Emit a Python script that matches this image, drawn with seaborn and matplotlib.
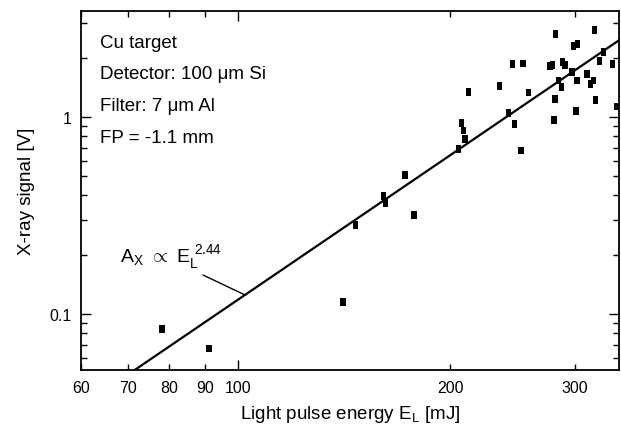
import numpy as np
import pandas as pd
import matplotlib
matplotlib.use("Agg")
import matplotlib.pyplot as plt
import matplotlib.ticker as mticker
import seaborn as sns

# light pulse energy [mJ] and x-ray signal [V]
energy = [78.1, 91.1, 141.0, 146.9, 160.8, 162.0, 172.6, 177.7,
          205.3, 207.6, 208.7, 209.9, 212.4,
          234.7, 241.7, 246.5, 252.0, 245.2, 253.4, 257.9,
          277.0, 279.4, 280.5, 281.5, 282.1, 284.5, 287.6, 288.6, 290.8,
          297.3, 298.9, 302.8, 301.2, 302.2, 312.2, 315.6, 319.0, 319.9,
          321.4, 325.3, 329.6, 339.8, 343.6]
signal = [0.084, 0.067, 0.115, 0.283, 0.398, 0.366, 0.508, 0.319,
          0.688, 0.929, 0.852, 0.773, 1.335,
          1.44, 1.05, 0.92, 0.675, 1.86, 1.87, 1.33,
          1.81, 1.84, 0.966, 1.234, 2.64, 1.53, 1.415, 1.90, 1.84,
          1.69, 2.30, 2.35, 1.076, 1.53, 1.65, 1.47, 1.53, 2.77,
          1.22, 1.93, 2.13, 1.86, 1.13]

# power-law fit A_X = C * E_L^2.44
fit_exponent = 2.44
fit_prefactor = 1.555e-6

x_ticks = [60, 70, 80, 90, 100, 200, 300]
y_ticks = [0.1, 1]
info_lines = ["Cu target", "Detector: 100 μm Si", "Filter: 7 μm Al", "FP = -1.1 mm"]

sns.set_style("ticks")
plt.rcParams["font.family"] = ["Liberation Sans", "DejaVu Sans"]
plt.rcParams["mathtext.fontset"] = "custom"
plt.rcParams["mathtext.rm"] = "Liberation Sans"
plt.rcParams["text.color"] = "black"
plt.rcParams["axes.labelcolor"] = "black"

df = pd.DataFrame({"energy": energy, "signal": signal})
e_fit = np.geomspace(60, 350, 200)
df_fit = pd.DataFrame({"energy": e_fit, "signal": fit_prefactor * e_fit ** fit_exponent})

fig = plt.figure(figsize=(6.21, 4.35), dpi=100)
ax = fig.add_axes([81 / 621, 1 - 371 / 435, 538 / 621, 359 / 435])

sns.lineplot(data=df_fit, x="energy", y="signal", color="black", lw=1.6, ax=ax)
rect = [(-0.7, -1), (0.7, -1), (0.7, 1), (-0.7, 1)]
sns.scatterplot(data=df, x="energy", y="signal", marker=rect, s=30, color="black",
                edgecolor="none", ax=ax, zorder=3)

ax.set_xscale("log")
ax.set_yscale("log")
ax.set_xlim(60, 346.7)
ax.set_ylim(0.052, 3.45)

ax.xaxis.set_major_locator(mticker.FixedLocator([100]))
ax.xaxis.set_minor_locator(mticker.FixedLocator([60, 70, 80, 90, 200, 300]))
ax.xaxis.set_major_formatter(mticker.FixedFormatter(["100"]))
ax.xaxis.set_minor_formatter(mticker.FuncFormatter(lambda v, p: "%d" % round(v) if round(v) in x_ticks else ""))
ax.yaxis.set_major_locator(mticker.FixedLocator(y_ticks))
ax.yaxis.set_major_formatter(mticker.FuncFormatter(lambda v, p: "%g" % v))
ax.yaxis.set_minor_locator(mticker.LogLocator(subs=np.arange(2, 10)))
ax.yaxis.set_minor_formatter(mticker.NullFormatter())

ax.tick_params(which="both", direction="in", top=True, right=True, labelsize=11.5, pad=7,
               width=1.0, color="black", labelcolor="black")
ax.tick_params(which="major", length=7)
ax.tick_params(which="minor", length=4)
for sp in ax.spines.values():
    sp.set_linewidth(1.3)
    sp.set_color("black")

ax.set_xlabel("Light pulse energy E$_\\mathregular{L}$ [mJ]", fontsize=13.5, labelpad=6)
ax.set_ylabel("X-ray signal [V]", fontsize=13.5, labelpad=10)

for i, line in enumerate(info_lines):
    ax.text(0.035, 0.9136 - i * 0.0885, line, transform=ax.transAxes,
            fontsize=13.5, va="center", ha="left")

e_ptr = 102.4
ax.annotate("", xy=(e_ptr, fit_prefactor * e_ptr ** fit_exponent),
            xytext=(0.2268, 0.2646), textcoords="axes fraction",
            arrowprops=dict(arrowstyle="-", color="black", lw=1.0, shrinkA=0, shrinkB=0))
ax.text(0.072, 0.30, "A$_\\mathregular{X}$ $\\propto$ E$_\\mathregular{L}^{\\ \\mathregular{2.44}}$",
        transform=ax.transAxes, fontsize=14, va="baseline", ha="left")

fig.savefig("out.png", dpi=100)
